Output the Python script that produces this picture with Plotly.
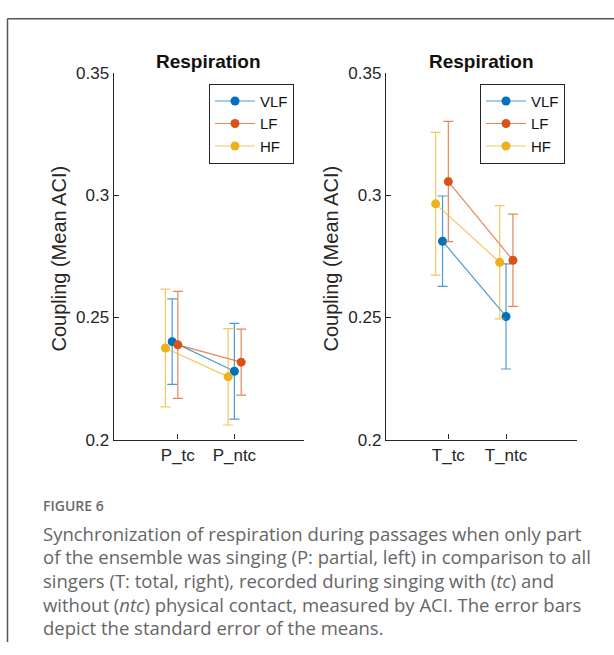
import plotly.graph_objects as go

W, H = 614, 655

# ---- data ----
series = ["VLF", "LF", "HF"]
colors = {"VLF": "0,114,189", "LF": "217,83,25", "HF": "237,177,32"}

p_categories = ["P_tc", "P_ntc"]
t_categories = ["T_tc", "T_ntc"]

p_vlf_mean = [0.2401, 0.2280]
p_vlf_se = [0.0175, 0.0196]
p_lf_mean = [0.2388, 0.2317]
p_lf_se = [0.0219, 0.0135]
p_hf_mean = [0.2375, 0.2257]
p_hf_se = [0.0241, 0.0197]

t_vlf_mean = [0.2812, 0.2504]
t_vlf_se = [0.0185, 0.0215]
t_lf_mean = [0.3056, 0.2734]
t_lf_se = [0.0246, 0.0189]
t_hf_mean = [0.2965, 0.2726]
t_hf_se = [0.0292, 0.0232]

# horizontal jitter of each series at the two conditions (tc, ntc)
jitter = {"VLF": [-0.10, 0.0], "LF": [0.0, 0.12], "HF": [-0.22, -0.11]}

y_ticks = [0.2, 0.25, 0.3, 0.35]
y_ticktext = ["0.2", "0.25", "0.3", "0.35"]

panel_title = "Respiration"
y_title = "Coupling (Mean ACI)"
caption_head = "FIGURE 6"
caption_lines = [
    "Synchronization of respiration during passages when only part",
    "of the ensemble was singing (P: partial, left) in comparison to all",
    "singers (T: total, right), recorded during singing with (<i>tc</i>) and",
    "without (<i>ntc</i>) physical contact, measured by ACI. The error bars",
    "depict the standard error of the means.",
]

p_data = {"VLF": (p_vlf_mean, p_vlf_se), "LF": (p_lf_mean, p_lf_se), "HF": (p_hf_mean, p_hf_se)}
t_data = {"VLF": (t_vlf_mean, t_vlf_se), "LF": (t_lf_mean, t_lf_se), "HF": (t_hf_mean, t_hf_se)}

# ---- helpers (pixel -> paper) ----
def px(x):
    return x / W

def py(y):
    return 1 - y / H

fig = go.Figure()

panels = [
    ("x", "y", "legend", p_data, p_categories),
    ("x2", "y2", "legend2", t_data, t_categories),
]
for xa, ya, leg, data, cats in panels:
    for s in series:
        mean, se = data[s]
        xs = [i + 1 + jitter[s][i] for i in range(len(mean))]
        fig.add_trace(go.Scatter(
            x=xs, y=mean, xaxis=xa, yaxis=ya, legend=leg,
            name=s, mode="lines+markers",
            line=dict(color=f"rgba({colors[s]},0.7)", width=1.2),
            marker=dict(color=f"rgb({colors[s]})", size=9),
            error_y=dict(type="data", array=se, visible=True,
                         color=f"rgba({colors[s]},0.7)", thickness=1.2, width=5),
        ))

axis_color = "#262626"
tick_font = dict(family="Liberation Sans, Arial", size=17, color=axis_color)

common_x = dict(showline=True, linecolor=axis_color, linewidth=1.3, ticks="inside",
                ticklen=5, tickcolor=axis_color, tickfont=tick_font, showgrid=False,
                zeroline=False, tickvals=[1, 2], fixedrange=True, mirror=False)
common_y = dict(showline=True, linecolor=axis_color, linewidth=1.3, ticks="inside",
                ticklen=5, tickcolor=axis_color, tickfont=tick_font, showgrid=False,
                zeroline=False, range=[0.2, 0.35], tickvals=y_ticks, ticktext=y_ticktext,
                fixedrange=True)

y_dom = [py(443.5), py(66)]
legend_font = dict(family="Liberation Sans, Arial", size=15, color="#111")

fig.update_layout(
    width=W, height=H, autosize=False,
    margin=dict(l=0, r=0, t=0, b=0),
    paper_bgcolor="white", plot_bgcolor="white",
    xaxis=dict(common_x, domain=[px(113.7), px(304)], range=[-0.134, 3.231],
               ticktext=p_categories, anchor="y"),
    yaxis=dict(common_y, domain=y_dom, anchor="x"),
    xaxis2=dict(common_x, domain=[px(386), px(577)], range=[-0.08, 3.23],
                ticktext=t_categories, anchor="y2"),
    yaxis2=dict(common_y, domain=y_dom, anchor="x2"),
    legend=dict(x=px(209), y=py(77), xanchor="left", yanchor="top",
                bordercolor=axis_color, borderwidth=1, bgcolor="white",
                font=legend_font, itemwidth=40, tracegroupgap=0),
    legend2=dict(x=px(480), y=py(77), xanchor="left", yanchor="top",
                 bordercolor=axis_color, borderwidth=1, bgcolor="white",
                 font=legend_font, itemwidth=40, tracegroupgap=0),
    showlegend=True,
)

annotations = []
for cx in [(113.7 + 304) / 2, (386 + 577) / 2]:
    annotations.append(dict(x=px(cx), y=py(54), xref="paper", yref="paper",
                            text=f"<b>{panel_title}</b>", showarrow=False,
                            xanchor="center", yanchor="middle",
                            font=dict(family="Liberation Sans, Arial", size=19, color="#111")))
for lx in [59, 331]:
    annotations.append(dict(x=px(lx), y=py(257), xref="paper", yref="paper",
                            text=y_title, textangle=-90, showarrow=False,
                            xanchor="center", yanchor="middle",
                            font=dict(family="Liberation Sans, Arial", size=20, color=axis_color)))

annotations.append(dict(x=px(41), y=py(511), xref="paper", yref="paper",
                        text=caption_head, showarrow=False, xanchor="left", yanchor="middle",
                        font=dict(family="Open Sans", size=14, color="#6a6a6a", weight=600)))
for i, line in enumerate(caption_lines):
    annotations.append(dict(x=px(41), y=py(540 + i * 24.3), xref="paper", yref="paper",
                            text=line, showarrow=False, xanchor="left", yanchor="middle",
                            font=dict(family="Open Sans", size=18.5, color="#666666")))
fig.update_layout(annotations=annotations)

frame_color = "#555555"
fig.update_layout(shapes=[
    dict(type="line", xref="paper", yref="paper", x0=px(7.5), x1=1.0, y0=py(10), y1=py(10),
         line=dict(color=frame_color, width=1.5)),
    dict(type="line", xref="paper", yref="paper", x0=px(7.5), x1=px(7.5), y0=py(10), y1=py(652),
         line=dict(color=frame_color, width=1.5)),
])

fig.write_html(
    "out.html",
    config={"displayModeBar": False, "responsive": False},
    post_script=(
        "document.documentElement.style.margin='0px';"
        "document.body.style.margin='0px';"
        "document.body.style.overflow='hidden';"
        "document.documentElement.style.overflow='hidden';"
        "var d=document.getElementById('{plot_id}');"
        "d.style.position='fixed';d.style.top='0px';d.style.left='0px';"
    ),
)
